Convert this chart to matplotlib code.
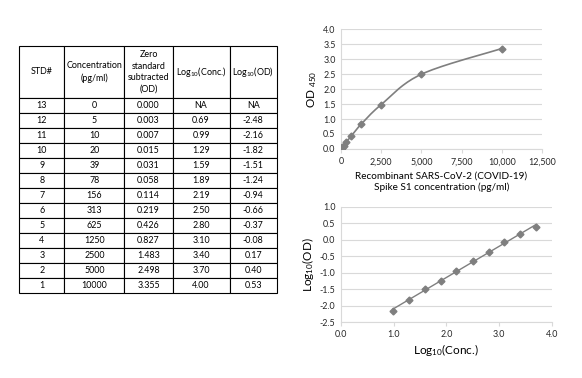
import numpy as np
import matplotlib
matplotlib.use("Agg")
import matplotlib.pyplot as plt

plt.rcParams['font.family'] = ['Lato', 'DejaVu Sans']
plt.rcParams['mathtext.fontset'] = 'custom'
plt.rcParams['mathtext.rm'] = 'Lato'
plt.rcParams['mathtext.it'] = 'Lato'
plt.rcParams['mathtext.bf'] = 'Lato:bold'

# standard curve data
std_no = ["13", "12", "11", "10", "9", "8", "7", "6", "5", "4", "3", "2", "1"]
conc = [0, 5, 10, 20, 39, 78, 156, 313, 625, 1250, 2500, 5000, 10000]
od = [0.000, 0.003, 0.007, 0.015, 0.031, 0.058, 0.114, 0.219, 0.426, 0.827, 1.483, 2.498, 3.355]
log_conc = ["NA", "0.69", "0.99", "1.29", "1.59", "1.89", "2.19", "2.50", "2.80", "3.10", "3.40", "3.70", "4.00"]
log_od = ["NA", "-2.48", "-2.16", "-1.82", "-1.51", "-1.24", "-0.94", "-0.66", "-0.37", "-0.08", "0.17", "0.40", "0.53"]
od_text = ["0.000", "0.003", "0.007", "0.015", "0.031", "0.058", "0.114", "0.219", "0.426", "0.827", "1.483", "2.498", "3.355"]
headers = ["STD#", "Concentration\n(pg/ml)", "Zero\nstandard\nsubtracted\n(OD)",
           "Log$_{10}$(Conc.)", "Log$_{10}$(OD)"]

# points shown on the log-log plot
lx = [0.99, 1.29, 1.59, 1.89, 2.19, 2.50, 2.80, 3.10, 3.40, 3.70]
ly = [-2.16, -1.82, -1.51, -1.24, -0.94, -0.66, -0.37, -0.08, 0.17, 0.40]

grey = '#7f7f7f'
gridc = '#d9d9d9'
txt = '#262626'


def smooth(x, y, n=20):
    # catmull-rom style smoothing like excel's smoothed line
    x = np.asarray(x, float)
    y = np.asarray(y, float)
    px = np.concatenate([[x[0]], x, [x[-1]]])
    py = np.concatenate([[y[0]], y, [y[-1]]])
    outx, outy = [], []
    t = np.linspace(0, 1, n)
    for i in range(1, len(px) - 2):
        p0 = np.array([px[i], py[i]])
        p3 = np.array([px[i + 1], py[i + 1]])
        c1 = p0 + (np.array([px[i + 1], py[i + 1]]) - np.array([px[i - 1], py[i - 1]])) / 6
        c2 = p3 - (np.array([px[i + 2], py[i + 2]]) - np.array([px[i], py[i]])) / 6
        b = ((1 - t) ** 3)[:, None] * p0 + (3 * (1 - t) ** 2 * t)[:, None] * c1 \
            + (3 * (1 - t) * t ** 2)[:, None] * c2 + (t ** 3)[:, None] * p3
        outx.extend(b[:, 0])
        outy.extend(b[:, 1])
    return outx, outy


fig = plt.figure(figsize=(5.82, 3.78), dpi=100)

# table
tax = fig.add_axes([0.0332, 0.2257, 0.4428, 0.6523])
tax.axis('off')
rows = [[std_no[i], str(conc[i]), od_text[i], log_conc[i], log_od[i]] for i in range(len(conc))]
tbl = tax.table(cellText=rows, colLabels=headers, cellLoc='center', bbox=[0, 0, 1, 1])
tbl.auto_set_font_size(False)
colw = [45, 60, 48, 57, 47.4]
for (r, c), cell in tbl.get_celld().items():
    cell.set_width(colw[c])
    cell.set_height(51.7 if r == 0 else 15)
    cell.set_linewidth(0.8)
    cell.set_edgecolor('black')
    cell.get_text().set_fontsize(6.4)
    cell.get_text().set_color('black')
    if r == 0:
        cell.get_text().set_linespacing(1.35)

# top chart: OD vs concentration
ax1 = fig.add_axes([0.586, 0.606, 0.345, 0.3165])
sx, sy = smooth(conc, od)
ax1.plot(sx, sy, color=grey, lw=1.2, zorder=3)
ax1.plot(conc, od, linestyle='none', marker='D', ms=3.5, color=grey, zorder=4)
ax1.set_xlim(0, 12500)
ax1.set_ylim(0, 4.0)
ax1.set_xticks([0, 2500, 5000, 7500, 10000, 12500])
ax1.set_xticklabels(['0', '2,500', '5,000', '7,500', '10,000', '12,500'])
ax1.set_yticks(np.arange(0, 4.01, 0.5))
ax1.set_yticklabels(['%.1f' % v for v in np.arange(0, 4.01, 0.5)])
ax1.set_ylabel('OD $_{450}$', fontsize=8.5, labelpad=3, color='black')
ax1.set_xlabel('Recombinant SARS-CoV-2 (COVID-19)\nSpike S1 concentration (pg/ml)',
               fontsize=7.2, labelpad=4, color='black')

# bottom chart: log-log
ax2 = fig.add_axes([0.586, 0.148, 0.362, 0.305])
k, b0 = np.polyfit(lx, ly, 1)
ax2.plot([lx[0], lx[-1]], [k * lx[0] + b0, k * lx[-1] + b0], color=grey, lw=1.0, zorder=3)
ax2.plot(lx, ly, linestyle='none', marker='D', ms=3.5, color=grey, zorder=4)
ax2.set_xlim(0, 4.0)
ax2.set_ylim(-2.5, 1.0)
ax2.set_xticks(np.arange(0, 4.01, 1.0))
ax2.set_xticklabels(['%.1f' % v for v in np.arange(0, 4.01, 1.0)])
ax2.set_yticks(np.arange(-2.5, 1.01, 0.5))
ax2.set_yticklabels(['%.1f' % v for v in np.arange(-2.5, 1.01, 0.5)])
ax2.set_ylabel('Log$_{10}$(OD)', fontsize=8.5, labelpad=3, color='black')
ax2.set_xlabel('Log$_{10}$(Conc.)', fontsize=8.5, labelpad=2, color='black')

for ax in (ax1, ax2):
    ax.grid(axis='y', color=gridc, lw=0.8)
    ax.set_axisbelow(True)
    for s in ('top', 'right'):
        ax.spines[s].set_visible(False)
    for s in ('left', 'bottom'):
        ax.spines[s].set_color(gridc)
        ax.spines[s].set_linewidth(0.8)
    ax.tick_params(axis='y', length=0, labelsize=6.4, pad=4, colors=txt)
    ax.tick_params(axis='x', length=3, width=0.8, color=gridc, labelsize=6.4, labelcolor=txt, pad=3)

fig.savefig('out.png', dpi=100)
